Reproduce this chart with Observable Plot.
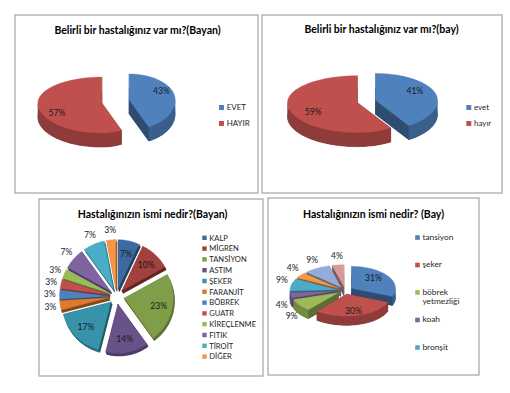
<!DOCTYPE html>
<html><head><meta charset="utf-8">
<script src="https://cdn.jsdelivr.net/npm/d3@7"></script>
<script src="https://cdn.jsdelivr.net/npm/@observablehq/plot@0.6"></script>
<style>body{margin:0;background:#fff;}</style>
</head><body><div id="chart"></div>
<script>
// ---------- data ----------
const titles = [
  "Belirli bir hastalığınız var mı?(Bayan)",
  "Belirli bir hastalığınız var mı?(bay)",
  "Hastalığınızın ismi nedir?(Bayan)",
  "Hastalığınızın ismi nedir? (Bay)"
];
const p1Categories = ["EVET", "HAYIR"];
const p1Values = [43, 57];
const p2Categories = ["evet", "hayır"];
const p2Values = [41, 59];
const p3Categories = ["KALP","MİGREN","TANSİYON","ASTIM","ŞEKER","FARANJİT","BÖBREK","GUATR","KİREÇLENME","FITIK","TİROİT","DİĞER"];
const p3Values = [7, 10, 23, 14, 17, 3, 3, 3, 3, 7, 7, 3];
const p4Categories = ["tansiyon","şeker","böbrek\nyetmezliği","koah","bronşit","diğer-1","diğer-2","diğer-3"];
const p4Values = [31, 30, 9, 4, 9, 4, 9, 4];
const p4LegendCount = 5; // legend in the picture shows only the first five entries

// ---------- styles / layout ----------
const c12 = ["#3C6AA0","#A3413E","#7F9E47","#69518A","#3793AA","#E0792D","#4F81BD","#C0504D","#9BBB59","#8064A2","#4BACC6","#F79646"];
const p1Colors = ["#4F81BD","#C0504D"];
const p2Colors = ["#4F81BD","#C0504D"];
const p4Colors = ["#4F81BD","#C0504D","#9BBB59","#8064A2","#4BACC6","#F79646","#93ACD9","#D99A98"];
const FONT = "Lato, 'Open Sans', sans-serif";

const panels = [
  {x1: 15, y1: 15, x2: 258, y2: 193},
  {x1: 262, y1: 15, x2: 502, y2: 193},
  {x1: 39, y1: 199, x2: 263, y2: 376},
  {x1: 268, y1: 198, x2: 479, y2: 375}
];
const titlePos = [{x: 137, y: 30}, {x: 381, y: 29}, {x: 152, y: 214}, {x: 373, y: 214}];

const cfgs = [
  {cx: 115, cy: 101, rxL: 64, rxR: 46, ryT: 26, ryB: 30, explode: 14, depth: [0, 14], fIn: 0.72, fOut: 1.2, ys: 2.2, inside: 2, outFront: 0, outBack: 0},
  {cx: 366, cy: 101, rxL: 70, rxR: 62, ryT: 27, ryB: 30, explode: 9.4, depth: [0, 14], fIn: 0.66, fOut: 1.2, ys: 1.8, inside: 2, outFront: 0, outBack: 0},
  {cx: 116, cy: 296, rxL: 49, rxR: 49, ryT: 49, ryB: 49, explode: 8, depth: [1.2, 2.6], fIn: 0.72, fOut: 1.2, ys: 1, inside: 5, outFront: 0, outBack: 0},
  {cx: 344.4, cy: 290, rxL: 47, rxR: 44, ryT: 22, ryB: 22, explode: 8, depth: [0, 9], fIn: 0.6, fOut: 1.2, ys: 1.3, inside: 2, outFront: 9, outBack: -4}
];
const legends = [
  {x: 221, y0: 107, step: 16, r: 2.8, size: 8, ls: 0.4},
  {x: 468.3, y0: 107, step: 16, r: 2.8, size: 8, ls: 0.3},
  {x: 204, y0: 237.3, step: 10.8, r: 2.5, size: 7.6, ls: 0.3},
  {x: 417, y0: 237, step: 27.5, r: 2.6, size: 8.4, ls: 0.3}
];

// ---------- geometry ----------
function buildPie(values, colors, cfg, pid) {
  const total = d3.sum(values);
  const k = (cfg.ryT + cfg.ryB) / (cfg.rxL + cfg.rxR);
  let acc = 0;
  const slices = values.map((v, i) => {
    const a = acc / total * 2 * Math.PI; acc += v;
    const b = acc / total * 2 * Math.PI;
    const m = (a + b) / 2;
    return {i, v, a, b, m, vx: cfg.cx + cfg.explode * Math.sin(m), vy: cfg.cy - cfg.explode * Math.cos(m) * k, color: colors[i]};
  });
  const rim = (s, t, f = 1, ys = 1) => {
    const ux = Math.sin(t), uy = -Math.cos(t);
    return [s.vx + f * ux * (ux < 0 ? cfg.rxL : cfg.rxR), s.vy + f * ys * uy * (uy < 0 ? cfg.ryT : cfg.ryB)];
  };
  const [dx, dy] = cfg.depth;
  const rows = [];
  const push = (key, color, pts) => pts.forEach(p => rows.push({key, color, x: p[0], y: p[1]}));
  const order = slices.slice().sort((p, q) => -Math.cos(p.m) + Math.cos(q.m));
  for (const s of order) {
    const n = Math.max(3, Math.ceil((s.b - s.a) / (Math.PI / 90))) + 1;
    const ts = d3.range(n).map(j => s.a + (s.b - s.a) * j / (n - 1));
    const top = [[s.vx, s.vy], ...ts.map(t => rim(s, t)), [s.vx, s.vy]];
    const base = d3.color(s.color);
    const key = `${pid}-${s.i}`;
    push(key + "-bottom", base.darker(1.6).formatHex(), top.map(p => [p[0] + dx, p[1] + dy]));
    for (const t of [s.a, s.b]) {
      const r = rim(s, t);
      push(key + "-wall" + t, base.darker(1.5).formatHex(),
        [[s.vx, s.vy], r, [r[0] + dx, r[1] + dy], [s.vx + dx, s.vy + dy], [s.vx, s.vy]]);
    }
    // outer wall, only where it faces the viewer
    let seg = [], segId = 0;
    const flush = () => {
      if (seg.length > 1) {
        const pts = seg.map(t => rim(s, t));
        push(key + "-outer" + (segId++), base.darker(0.85).formatHex(),
          [...pts, ...pts.slice().reverse().map(p => [p[0] + dx, p[1] + dy]), pts[0]]);
      }
      seg = [];
    };
    for (const t of ts) {
      const ux = Math.sin(t), uy = -Math.cos(t);
      const vis = dx * ux / (ux < 0 ? cfg.rxL : cfg.rxR) + dy * uy / (uy < 0 ? cfg.ryT : cfg.ryB) > 0;
      if (vis) seg.push(t); else flush();
    }
    flush();
    push(key + "-top", s.color, top);
  }
  const labels = slices.map(s => {
    const inside = s.i < cfg.inside;
    let p;
    if (inside) p = rim(s, s.m, cfg.fIn, cfg.ys);
    else {
      p = rim(s, s.m, cfg.fOut);
      p[1] += Math.cos(s.m) < 0 ? cfg.outFront : cfg.outBack;
    }
    return {x: p[0], y: p[1], text: `${s.v}%`};
  });
  return {rows, labels};
}

const pies = [
  buildPie(p1Values, p1Colors, cfgs[0], "p1"),
  buildPie(p2Values, p2Colors, cfgs[1], "p2"),
  buildPie(p3Values, c12, cfgs[2], "p3"),
  buildPie(p4Values, p4Colors, cfgs[3], "p4")
];
const sliceRows = pies.flatMap(p => p.rows);
const labelRows = pies.flatMap(p => p.labels);

const legendSets = [
  [p1Categories, p1Colors],
  [p2Categories, p2Colors],
  [p3Categories, c12],
  [p4Categories.slice(0, p4LegendCount), p4Colors]
];
const legendRows = legendSets.flatMap(([cats, cols], li) =>
  cats.map((c, i) => ({li, x: legends[li].x, y: legends[li].y0 + i * legends[li].step, text: c, color: cols[i]})));

const titleRows = titles.map((t, i) => ({text: t, ...titlePos[i]}));

const marks = [
  Plot.rect(panels, {x1: "x1", y1: "y1", x2: "x2", y2: "y2", fill: "white", stroke: "#ababab", strokeWidth: 1.3}),
  Plot.line(sliceRows, {x: "x", y: "y", z: "key", fill: "color", stroke: "color", strokeWidth: 0.3, curve: "linear"}),
  Plot.text(titleRows, {x: "x", y: "y", text: "text", fontSize: 10.5, fontWeight: "bold", fontFamily: FONT, fill: "#000"}),
  Plot.text(labelRows, {x: "x", y: "y", text: "text", fontSize: 8.6, fontFamily: FONT, fill: "#1a1a1a"})
];
legends.forEach((L, li) => {
  const rowsL = legendRows.filter(d => d.li === li);
  marks.push(Plot.dot(rowsL, {x: "x", y: "y", fill: "color", symbol: "square", r: L.r}));
  marks.push(Plot.text(rowsL, {x: d => d.x + L.r * 1.3 + 1.5, y: "y", text: "text", textAnchor: "start",
    lineAnchor: li === 3 ? "top" : "middle", dy: li === 3 ? -4.5 : 0, lineHeight: 1.12,
    fontSize: L.size, fontFamily: FONT, fill: "#262626", style: {letterSpacing: L.ls + "px"}}));
});

const chart = Plot.plot({
  width: 510, height: 393, margin: 0,
  x: {domain: [0, 510], range: [0, 510], axis: null},
  y: {domain: [0, 393], range: [0, 393], axis: null},
  color: {type: "identity"},
  style: {background: "white", fontFamily: FONT},
  marks
});
document.getElementById("chart").appendChild(chart);
</script>
</body></html>
